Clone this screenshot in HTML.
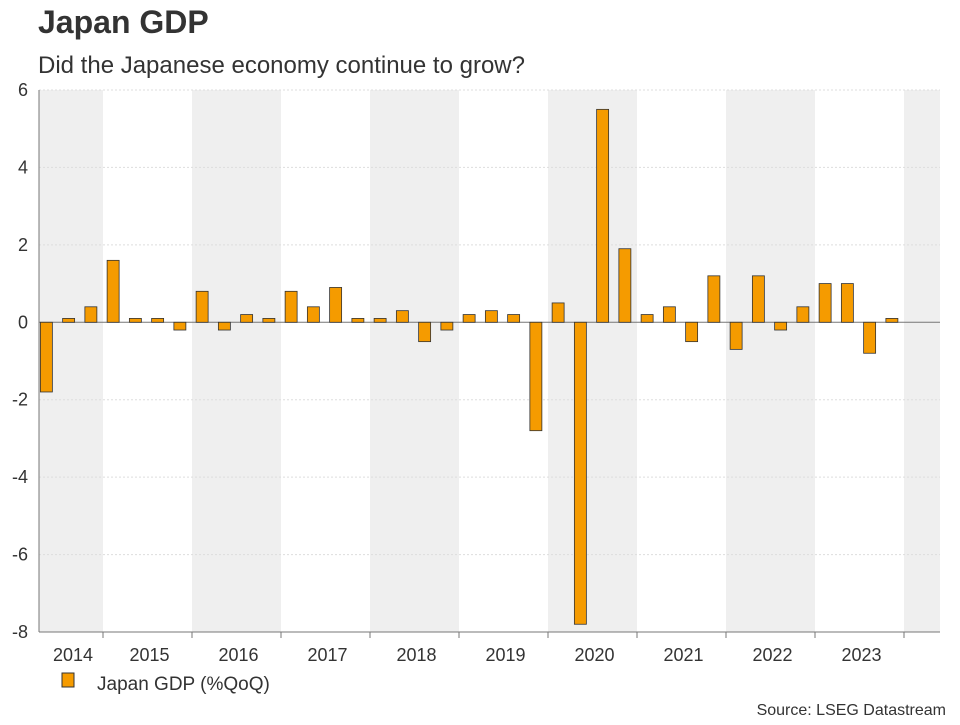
<!DOCTYPE html>
<html><head><meta charset="utf-8"><style>
body{margin:0;background:#fff;font-family:"Liberation Sans",sans-serif;}
svg text{font-family:"Liberation Sans",sans-serif;}
</style></head><body>
<svg id="c" width="960" height="720" xmlns="http://www.w3.org/2000/svg">
<text x="38" y="33" font-size="32" font-weight="bold" fill="#333">Japan GDP</text>
<text x="38" y="73" font-size="24" fill="#333">Did the Japanese economy continue to grow?</text>
<g id="bands"></g><g id="grid"></g><g id="bars"></g><g id="axes"></g>
<rect x="62" y="673" width="12" height="14" fill="#f59b00" stroke="#333" stroke-width="1"/>
<text x="97" y="690" font-size="19" fill="#333">Japan GDP (%QoQ)</text>
<text x="946" y="715" font-size="16" fill="#333" text-anchor="end">Source: LSEG Datastream</text>
</svg>
<script>
const years = [2014,2015,2016,2017,2018,2019,2020,2021,2022,2023];
const quarters = ["2014Q2","2014Q3","2014Q4","2015Q1","2015Q2","2015Q3","2015Q4","2016Q1","2016Q2","2016Q3","2016Q4","2017Q1","2017Q2","2017Q3","2017Q4","2018Q1","2018Q2","2018Q3","2018Q4","2019Q1","2019Q2","2019Q3","2019Q4","2020Q1","2020Q2","2020Q3","2020Q4","2021Q1","2021Q2","2021Q3","2021Q4","2022Q1","2022Q2","2022Q3","2022Q4","2023Q1","2023Q2","2023Q3","2023Q4"];
const gdp = [-1.8,0.1,0.4,1.6,0.1,0.1,-0.2,0.8,-0.2,0.2,0.1,0.8,0.4,0.9,0.1,0.1,0.3,-0.5,-0.2,0.2,0.3,0.2,-2.8,0.5,-7.8,5.5,1.9,0.2,0.4,-0.5,1.2,-0.7,1.2,-0.2,0.4,1.0,1.0,-0.8,0.1];
const yTicks = [6,4,2,0,-2,-4,-6,-8];
const NS="http://www.w3.org/2000/svg";
const L=39,R=940,T=90,B=632,yMin=-8,yMax=6;
function xs(t){return 103+(t-2015)*89;}
function ys(v){return T+(yMax-v)/(yMax-yMin)*(B-T);}
function mk(tag,a,p){const e=document.createElementNS(NS,tag);for(const k in a)e.setAttribute(k,a[k]);document.getElementById(p).appendChild(e);return e;}
for(let y=2014;y<=2024;y+=2){
  const a=Math.max(L,xs(y)),b=Math.min(R,xs(y+1));
  const r=mk('rect',{x:a,y:T,width:b-a,height:B-T,fill:'#efefef'},'bands');
  
  
}
yTicks.forEach(v=>{
  const l=mk('line',{x1:L,x2:R,y1:ys(v),y2:ys(v),stroke:v===0?'#777':'#ddd','stroke-width':1,'stroke-dasharray':v===0?'':'2,2'},'grid');
  
  
  const t=mk('text',{x:28,y:ys(v)+6,'font-size':18,fill:'#333','text-anchor':'end'},'axes');
  t.textContent=v;
  
  
});
gdp.forEach((v,i)=>{
  const q=quarters[i];const yr=+q.slice(0,4),qn=+q.slice(5);
  const cx=xs(yr+(qn-0.5)/4)-1;
  const y1=ys(Math.max(v,0)),y2=ys(Math.min(v,0));
  const r=mk('rect',{x:cx-6,y:y1,width:12,height:Math.max(y2-y1,1),fill:'#f59b00',stroke:'#333','stroke-width':0.8},'bars');
  
  
});
let a=mk('line',{x1:L,x2:L,y1:T,y2:B,stroke:'#777'},'axes');


a=mk('line',{x1:L,x2:R,y1:B,y2:B,stroke:'#777'},'axes');


years.forEach(y=>{
  const tk=mk('line',{x1:xs(y+1),x2:xs(y+1),y1:B,y2:B+6,stroke:'#777'},'axes');
  
  
  const cx=(Math.max(L,xs(y))+xs(y+1))/2+2;
  const t=mk('text',{x:cx,y:661,'font-size':18,fill:'#333','text-anchor':'middle'},'axes');
  t.textContent=y;
  
  
});
</script>
</body></html>
